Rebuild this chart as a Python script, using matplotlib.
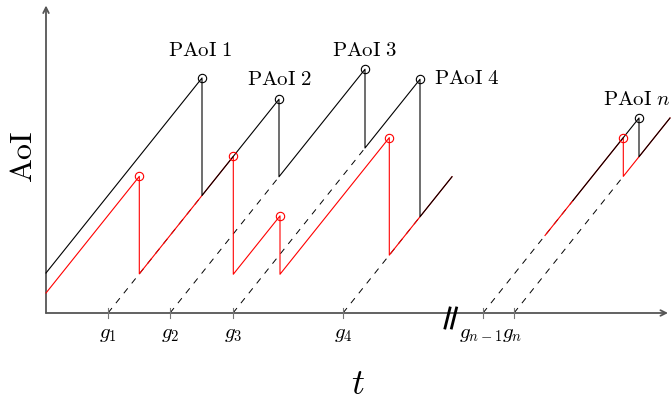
import matplotlib
matplotlib.use("Agg")
import matplotlib.pyplot as plt

plt.rcParams['mathtext.fontset'] = 'cm'
plt.rcParams['font.family'] = ['DejaVu Serif']

# generation instants g_k on the time axis (slope-1 units)
g_pos = [62, 124, 187, 297, 437, 468]
g_labels = [r'$g_1$', r'$g_2$', r'$g_3$', r'$g_4$', r'$g_{n-1}$', r'$g_n$']
g_label_x = [62, 124, 187, 297, 435, 466]

# black sawtooth (PAoI curve): first part, then part after the break
black_t1 = [0, 156, 156, 233, 233, 319, 319, 374, 374, 406]
black_a1 = [32, 188, 94, 171, 109, 195, 132, 187, 77, 109]
black_t2 = [527, 593, 593, 624]
black_a2 = [90, 156, 125, 156]

# red sawtooth
red_t1 = [0, 93.3, 93.3, 187.3, 187.3, 234, 234, 343.3, 343.3, 406]
red_a1 = [16, 109.3, 31.3, 125.3, 31, 77.7, 31, 140.3, 46.3, 109]
red_t2 = [499, 577.3, 577.3, 624]
red_a2 = [62, 140.3, 109.3, 156]

# peaks marked with circles
black_peak_t = [156, 233, 319, 374, 593]
black_peak_a = [188, 171, 195, 187, 156]
red_peak_t = [93.3, 187.3, 234, 343.3, 577.3]
red_peak_a = [109.3, 125.3, 77.7, 140.3, 140.3]

# dashed lines start at g_k and end here
dash_end_t = [156, 233, 319, 374, 527, 577.3]

paoi_labels = [r'$\mathrm{PAoI\ 1}$', r'$\mathrm{PAoI\ 2}$', r'$\mathrm{PAoI\ 3}$',
               r'$\mathrm{PAoI\ 4}$', r'$\mathrm{PAoI}\ n$']
paoi_x = [154, 234, 319, 421, 591]
paoi_y = [210, 187, 210, 188, 171]

fig = plt.figure(figsize=(6.72, 4.04), dpi=100)
ax = fig.add_axes([0, 0, 1, 1])
ax.set_xlim(-46, 626)
ax.set_ylim(-72.8, 250.4)
ax.axis('off')

axis_col = '#555555'

# axes with arrows
ax.annotate('', xy=(0, 246), xytext=(0, 0),
            arrowprops=dict(arrowstyle='->', color=axis_col, lw=1.3, shrinkA=0, shrinkB=0))
ax.annotate('', xy=(622, 0), xytext=(0, 0),
            arrowprops=dict(arrowstyle='->', color=axis_col, lw=1.3, shrinkA=0, shrinkB=0))

# dashed generation lines
for g, te in zip(g_pos, dash_end_t):
    ax.plot([g, te], [0, te - g], color='black', lw=0.7, ls=(0, (6.5, 6.5)), zorder=2)

# ticks and labels
for g in g_pos:
    ax.plot([g, g], [-4, 4], color='#777777', lw=0.8, zorder=3)
for x, lab in zip(g_label_x, g_labels):
    ax.text(x, -17, lab, fontsize=15, ha='center', va='center')

# red and black curves
ax.plot(red_t1, red_a1, color='red', lw=0.8, zorder=3)
ax.plot(red_t2, red_a2, color='red', lw=0.8, zorder=3)
ax.plot(black_t1, black_a1, color='black', lw=0.8, zorder=4)
ax.plot(black_t2, black_a2, color='black', lw=0.8, zorder=4)

ax.plot(red_peak_t, red_peak_a, 'o', ms=6, mfc='none', mec='red', mew=0.8, zorder=5)
ax.plot(black_peak_t, black_peak_a, 'o', ms=6, mfc='none', mec='black', mew=0.8, zorder=5)

for x, y, lab in zip(paoi_x, paoi_y, paoi_labels):
    ax.text(x, y, lab, fontsize=15, ha='center', va='center')

# axis break
ax.plot([399, 404], [-12, 4], color='black', lw=2, zorder=6)
ax.plot([405.5, 410.5], [-12, 4], color='black', lw=2, zorder=6)

ax.text(312, -57, r'$t$', fontsize=26, ha='center', va='center')
ax.text(-22, 125, r'$\mathrm{AoI}$', fontsize=23, ha='center', va='center', rotation=90)

fig.savefig('out.png', dpi=100)
